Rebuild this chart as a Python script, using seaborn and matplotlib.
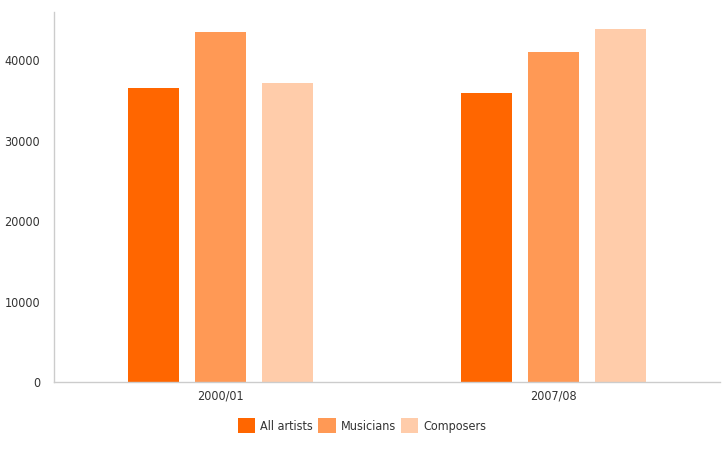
import matplotlib
matplotlib.use("Agg")
import matplotlib.pyplot as plt
import seaborn as sns
import pandas as pd
from matplotlib.patches import Patch

categories = ["2000/01", "2007/08"]
series = ["All artists", "Musicians", "Composers"]
all_artists = [36600, 35900]
musicians = [43500, 41000]
composers = [37200, 43850]
colors = ["#FF6600", "#FF9955", "#FFCCAA"]

rows = []
for s, vals in zip(series, [all_artists, musicians, composers]):
    for c, v in zip(categories, vals):
        rows.append({"period": c, "series": s, "value": v})
df = pd.DataFrame(rows)

sns.set_style("white")
plt.rcParams['font.family'] = ['DejaVu Sans']
plt.rcParams['font.stretch'] = 'condensed'

fig = plt.figure(figsize=(7.24, 4.49), dpi=100)
ax = fig.add_axes([0.0746, 0.149, 0.92, 0.824])
sns.barplot(data=df, x="period", y="value", hue="series", order=categories,
            hue_order=series, palette=colors, width=0.6, gap=0.235,
            ax=ax, legend=False, saturation=1, edgecolor="none")
ax.set_xlim(-0.5, 1.5)
ax.set_ylim(0, 46000)
ax.set_yticks([0, 10000, 20000, 30000, 40000])
ax.set_xlabel("")
ax.set_ylabel("")
for sp in ["top", "right"]:
    ax.spines[sp].set_visible(False)
for sp in ["left", "bottom"]:
    ax.spines[sp].set_color("#cccccc")
    ax.spines[sp].set_linewidth(1)
ax.tick_params(axis="y", length=5, color="#cccccc", labelsize=9, labelcolor="#333333", pad=5)
ax.tick_params(axis="x", length=0, labelsize=9, labelcolor="#333333", pad=5)
for lab in ax.get_yticklabels() + ax.get_xticklabels():
    lab.set_fontstretch('condensed')

handles = [Patch(facecolor=c, edgecolor="none") for c in colors]
fig.legend(handles, series, loc="center", bbox_to_anchor=(0.5, 0.052), ncol=3,
           frameon=False, fontsize=9, handlelength=1.4, handleheight=1.4,
           columnspacing=0.4, handletextpad=0.4, labelcolor="#333333")

fig.savefig("out.png", dpi=100)
